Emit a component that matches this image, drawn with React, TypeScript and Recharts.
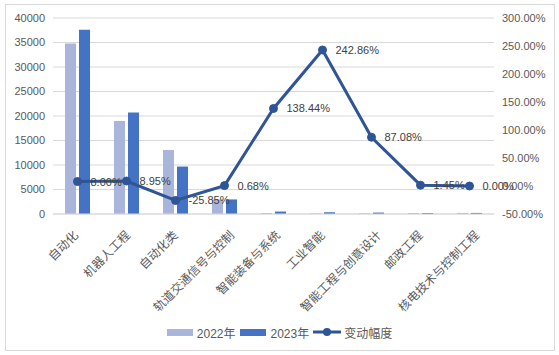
import {
  Bar,
  CartesianGrid,
  ComposedChart,
  Legend,
  Line,
  XAxis,
  YAxis,
} from "recharts";

const majors = [
  "自动化",
  "机器人工程",
  "自动化类",
  "轨道交通信号与控制",
  "智能装备与系统",
  "工业智能",
  "智能工程与创意设计",
  "邮政工程",
  "核电技术与控制工程",
];
const count2022 = [34800, 19000, 13060, 2950, 210, 105, 155, 207, 220];
const count2023 = [37580, 20700, 9680, 2970, 500, 360, 290, 210, 220];
const changePct = [8.0, 8.95, -25.85, 0.68, 138.44, 242.86, 87.08, 1.45, 0.0];

const leftTicks = [0, 5000, 10000, 15000, 20000, 25000, 30000, 35000, 40000];
const rightTicks = [-50, 0, 50, 100, 150, 200, 250, 300];

const data = majors.map((name, i) => ({
  name,
  y2022: count2022[i],
  y2023: count2023[i],
  change: changePct[i],
}));

const LIGHT = "#a9b5da";
const DARK = "#4472c4";
const LINE = "#2f5597";
const TEXT = "#595959";
const FONT = "'Liberation Sans', 'Noto Sans CJK SC', sans-serif";

const pct = (v: number) => `${v.toFixed(2)}%`;

function CategoryTick(props: any) {
  const { x, y, payload } = props;
  const s: string = payload.value;
  const off = 1.5 * s.length - 3;
  return (
    <text
      transform={`translate(${x + off},${y + 14}) rotate(-45)`}
      textAnchor="end"
      fontSize={12}
      fill={TEXT}
      fontFamily="'Noto Sans CJK SC', sans-serif"
    >
      {s}
    </text>
  );
}

function PctLabel(props: any) {
  const { x, y, value } = props;
  return (
    <text
      x={x + 13}
      y={y}
      dominantBaseline="central"
      fontSize={11}
      fill="#404040"
      fontFamily={FONT}
    >
      {pct(value)}
    </text>
  );
}

function LegendBox() {
  const item = { display: "flex", alignItems: "center" } as const;
  return (
    <div
      style={{
        display: "flex",
        justifyContent: "center",
        alignItems: "center",
        height: 20,
        fontSize: 12,
        color: TEXT,
        fontFamily: FONT,
      }}
    >
      <div style={item}>
        <span style={{ width: 26, height: 7, background: LIGHT, marginRight: 4 }} />
        <span>2022年</span>
      </div>
      <div style={{ ...item, marginLeft: 5 }}>
        <span style={{ width: 26, height: 7, background: DARK, marginRight: 4 }} />
        <span>2023年</span>
      </div>
      <div style={{ ...item, marginLeft: 4 }}>
        <svg width={28} height={10} style={{ marginRight: 3 }}>
          <line x1={0} y1={5} x2={28} y2={5} stroke={LINE} strokeWidth={3} />
          <circle cx={14} cy={5} r={4} fill={LINE} />
        </svg>
        <span>变动幅度</span>
      </div>
    </div>
  );
}

export default function App() {
  return (
    <div
      style={{
        position: "absolute",
        left: 0,
        top: 0,
        width: 559,
        height: 355,
        background: "#fff",
      }}
    >
      <div
        style={{
          position: "absolute",
          left: 5,
          top: 4,
          width: 550,
          height: 347,
          boxSizing: "border-box",
          border: "1px solid #d9d9d9",
        }}
      />
      <ComposedChart
        width={559}
        height={355}
        data={data}
        margin={{ top: 18, right: 0, bottom: 13, left: 0 }}
        barSize={11}
        barGap={3}
      >
        <CartesianGrid yAxisId="left" vertical={false} stroke="#d9d9d9" />
        <XAxis
          dataKey="name"
          interval={0}
          height={108}
          tick={<CategoryTick />}
          tickLine={false}
          axisLine={{ stroke: "#d9d9d9" }}
        />
        <YAxis
          yAxisId="left"
          width={53}
          domain={[0, 40000]}
          ticks={leftTicks}
          tickLine={false}
          axisLine={false}
          tick={{ fontSize: 11, fill: TEXT, fontFamily: FONT }}
        />
        <YAxis
          yAxisId="right"
          orientation="right"
          width={65}
          domain={[-50, 300]}
          ticks={rightTicks}
          tickFormatter={pct}
          tickLine={false}
          axisLine={false}
          tick={{ fontSize: 11, fill: TEXT, fontFamily: FONT, textAnchor: "start" }}
        />
        <Legend verticalAlign="bottom" content={<LegendBox />} />
        <Bar yAxisId="left" dataKey="y2022" name="2022年" fill={LIGHT} isAnimationActive={false} />
        <Bar yAxisId="left" dataKey="y2023" name="2023年" fill={DARK} isAnimationActive={false} />
        <Line
          yAxisId="right"
          dataKey="change"
          name="变动幅度"
          stroke={LINE}
          strokeWidth={3}
          dot={{ r: 4, fill: LINE, stroke: LINE, strokeWidth: 1 }}
          label={<PctLabel />}
          isAnimationActive={false}
        />
      </ComposedChart>
    </div>
  );
}
